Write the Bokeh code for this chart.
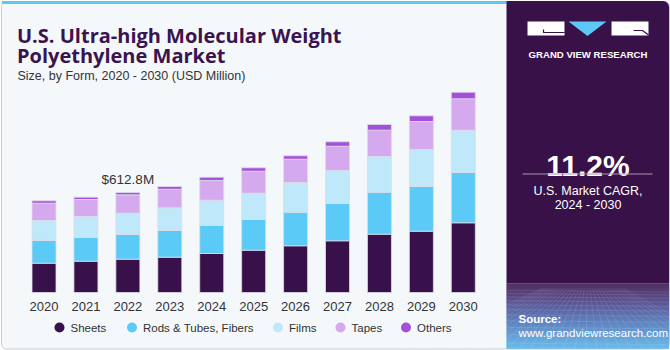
from bokeh.plotting import figure
from bokeh.models import Range1d, ColumnDataSource
from bokeh.core.properties import value
from bokeh.embed import file_html
from bokeh.resources import INLINE

# ---------------- data ----------------
years = [2020, 2021, 2022, 2023, 2024, 2025, 2026, 2027, 2028, 2029, 2030]
sheets = [179.6, 191.8, 204.1, 216.3, 239.0, 259.2, 286.2, 316.8, 357.3, 375.6, 427.1]
rods_tubes_fibers = [139.1, 145.2, 151.4, 163.6, 171.6, 188.1, 205.9, 228.6, 257.4, 273.9, 308.2]
films = [122.6, 128.7, 130.5, 139.1, 155.0, 161.2, 182.0, 202.2, 218.8, 226.7, 259.2]
tapes = [106.0, 104.2, 112.8, 114.0, 120.7, 134.8, 142.8, 148.9, 161.2, 171.6, 192.4]
others = [14.7, 14.1, 14.1, 16.5, 20.2, 20.8, 20.8, 27.0, 34.9, 34.9, 40.4]
series_labels = ["Sheets", "Rods & Tubes, Fibers", "Films", "Tapes", "Others"]
year_labels = [str(y) for y in years]
annot_year = 2022
annot_text = "$612.8M"
cagr_text = "11.2%"

# ---------------- style / layout ----------------
W, H = 670, 350
COLORS = ["#38104a", "#5ccaf7", "#bfe9fa", "#d5a9ed", "#a550db"]
PX_PER_YEAR = 41.93
FIRST_X_PX = 43.5
BASE_PX = 292.0
PX_PER_UNIT = 100.0 / 612.8
BAR_W = 24.0 / PX_PER_YEAR
TXT = "#333333"
FONT = value("Liberation Sans")
TITLE_FONT = value("Open Sans")

x0 = years[0] - FIRST_X_PX / PX_PER_YEAR
y0 = -(H - BASE_PX) / PX_PER_UNIT
p = figure(width=W, height=H, output_backend="svg", toolbar_location=None,
           x_axis_type=None, y_axis_type=None,
           x_range=Range1d(x0, x0 + W / PX_PER_YEAR),
           y_range=Range1d(y0, y0 + H / PX_PER_UNIT),
           min_border=0, min_border_left=0, min_border_right=0,
           min_border_top=0, min_border_bottom=0)
p.outline_line_color = None
p.background_fill_color = "white"
p.border_fill_color = "white"
p.extra_x_ranges = {"px": Range1d(0, W)}
p.extra_y_ranges = {"px": Range1d(H, 0)}
PX = dict(x_range_name="px", y_range_name="px")

# card
p.quad(left=[1], right=[669], top=[1], bottom=[348.5], fill_color="#f4f8fb",
       line_color="#c9cdd2", line_width=1, border_radius=5, **PX)
p.quad(left=[1.5], right=[506], top=[0.5], bottom=[3.5], fill_color="#62c6ef",
       line_color=None, **PX)

# right panel
p.quad(left=[506], right=[668.5], top=[0.5], bottom=[283], fill_color="#381149",
       line_color=None, border_radius=[0, 6, 0, 0], **PX)
stops = [(283, (0x3a, 0x14, 0x4c)), (300, (0x45, 0x3a, 0x80)),
         (320, (0x4b, 0x70, 0xb4)), (348, (0x58, 0xb4, 0xea))]
grad_l, grad_r, grad_c = [], [], []
for k in range(len(stops) - 1):
    (ya, ca), (yb, cb) = stops[k], stops[k + 1]
    n = int(yb - ya)
    for i in range(n):
        t = i / n
        c = tuple(int(ca[j] + (cb[j] - ca[j]) * t) for j in range(3))
        grad_l.append(ya + i)
        grad_r.append(ya + i + 1.2)
        grad_c.append("#%02x%02x%02x" % c)
p.quad(left=506, right=668.5, top=grad_l, bottom=grad_r, fill_color=grad_c,
       line_color=None, **PX)

# faint mesh texture in the source area
mesh_xs, mesh_ys = [], []
yy = 290.0
step = 3.0
while yy < 348:
    mesh_xs.append([506, 668.5])
    mesh_ys.append([yy, yy + 1.5])
    yy += step
    step *= 1.12
for i in range(-6, 24):
    xa = 506 + i * 8.0
    mesh_xs.append([587 + (xa - 587) * 0.35, xa + (xa - 587) * 0.4])
    mesh_ys.append([288, 348])
p.multi_line(xs=mesh_xs, ys=mesh_ys, line_color="white", line_alpha=0.13,
             line_width=0.8, **PX)

# logo
p.quad(left=[527, 611], right=[564, 648], top=[21, 21], bottom=[35, 35],
       fill_color="white", line_color=None, **PX)
p.patch(x=[568, 606, 587], y=[21, 21, 35.5], fill_color="#5bc8f5", line_color=None, **PX)
p.multi_line(xs=[[543, 543, 564], [633, 642, 648]], ys=[[29, 32, 32], [30, 30, 34.5]],
             line_color="#381149", line_width=1.2, **PX)
p.text(x=[587.5], y=[53.5], text=["GRAND VIEW RESEARCH"], text_font=FONT,
       text_font_style="bold", text_font_size="9.6px", text_color="white",
       text_align="center", text_baseline="alphabetic", **PX)

# CAGR
p.text(x=[587.5], y=[165], text=[cagr_text], text_font=FONT, text_font_style="bold",
       text_font_size="30px", text_color="white", text_align="center",
       text_baseline="alphabetic", **PX)
p.segment(x0=[522], y0=[173.5], x1=[652], y1=[173.5], line_color="#a898b4",
          line_width=1, **PX)
p.text(x=[587.5, 587.5], y=[190, 204], text=["U.S. Market CAGR,", "2024 - 2030"],
       text_font=FONT, text_font_size="12.5px", text_color="white",
       text_align="center", text_baseline="alphabetic", **PX)
p.text(x=[518], y=[318], text=["Source:"], text_font=FONT, text_font_style="bold",
       text_font_size="11.5px", text_color="white", text_baseline="alphabetic", **PX)
p.text(x=[518], y=[332.5], text=["www.grandviewresearch.com"], text_font=FONT,
       text_font_size="11.5px", text_color="white", text_baseline="alphabetic", **PX)

# title
p.text(x=[16.5, 16.5], y=[35, 55],
       text=["U.S. Ultra-high Molecular Weight", "Polyethylene Market"],
       text_font=TITLE_FONT, text_font_style="bold", text_font_size="20px",
       text_color="#3a1350", text_baseline="alphabetic", **PX)
p.text(x=[17], y=[75], text=["Size, by Form, 2020 - 2030 (USD Million)"],
       text_font=FONT, text_font_size="12.5px", text_color=TXT,
       text_baseline="alphabetic", **PX)

# bars
src = ColumnDataSource(dict(year=years, s0=sheets, s1=rods_tubes_fibers, s2=films,
                            s3=tapes, s4=others))
p.vbar_stack(["s0", "s1", "s2", "s3", "s4"], x="year", width=BAR_W, source=src,
             fill_color=COLORS, line_color="#dcdde8", line_width=0.8)

# year labels
p.text(x=years, y=[306] * len(years), text=year_labels, text_font=FONT,
       text_font_size="13px", text_color=TXT, text_align="center",
       text_baseline="alphabetic", y_range_name="px")

# annotation
idx = years.index(annot_year)
total = sheets[idx] + rods_tubes_fibers[idx] + films[idx] + tapes[idx] + others[idx]
p.text(x=[annot_year], y=[total], text=[annot_text], text_font=FONT,
       text_font_size="13.5px", text_color=TXT, text_align="center",
       text_baseline="alphabetic", y_offset=-12.5)

# legend
leg_x = [59, 131.5, 277.5, 340, 405.5]
p.scatter(x=leg_x, y=[327] * 5, size=10, marker="circle", fill_color=COLORS,
          line_color=None, **PX)
p.text(x=[x + 11 for x in leg_x], y=[327] * 5, text=series_labels, text_font=FONT,
       text_font_size="11.5px", text_color=TXT, text_baseline="middle", **PX)

open("out.html", "w").write(file_html(p, INLINE))
